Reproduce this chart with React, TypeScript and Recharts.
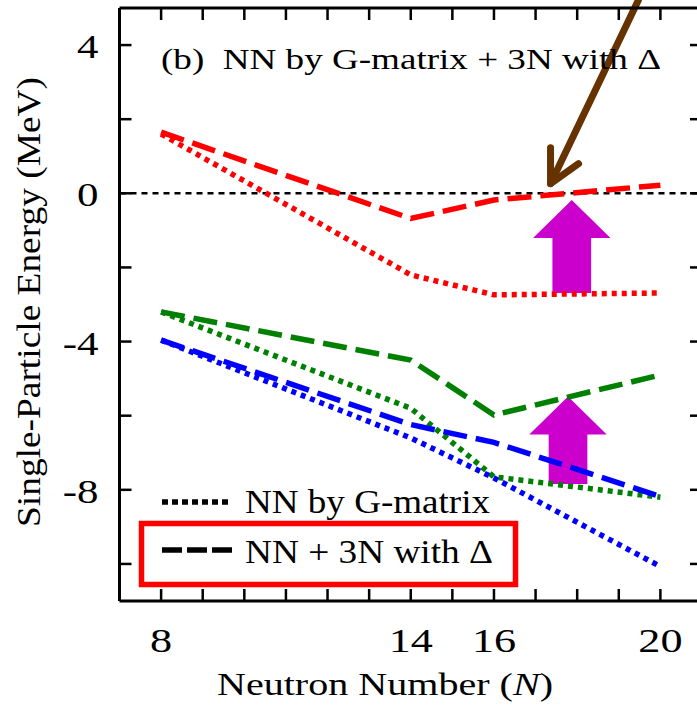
import React from "react";
import {
  LineChart,
  Line,
  XAxis,
  YAxis,
  ReferenceLine,
  ReferenceArea,
  Legend,
} from "recharts";

// single-particle energies (MeV) vs neutron number
const neutronNumbers = [8, 14, 16, 20];
const redG = [1.6, -2.2, -2.74, -2.69];
const red3N = [1.65, -0.68, -0.18, 0.22];
const greenG = [-3.2, -5.8, -7.65, -8.2];
const green3N = [-3.2, -4.5, -5.98, -4.9];
const blueG = [-3.96, -6.6, -7.68, -10.07];
const blue3N = [-3.96, -6.24, -6.72, -8.18];

const xTicks = [8, 9, 10, 11, 12, 13, 14, 15, 16, 17, 18, 19, 20];
const xLabeled = [8, 14, 16, 20];
const yTicks = [-10, -8, -6, -4, -2, 0, 2, 4];
const yLabeled = [-8, -4, 0, 4];

// annotation arrows: [N center, tail energy, tip energy]
const upArrows = [
  [17.87, -2.69, -0.18],
  [17.78, -7.84, -5.48],
];
const pointerTip = { x: 17.36, y: 0.26 };
const pointerTail = { x: 19.47, y: 5.21 };

const data = neutronNumbers.map((n, i) => ({
  n,
  redG: redG[i],
  red3N: red3N[i],
  greenG: greenG[i],
  green3N: green3N[i],
  blueG: blueG[i],
  blue3N: blue3N[i],
}));

const FONT = "Liberation Serif";
const TICK = 12;
const DOTTED = "5 5";
const DASHED = "24 9";

function BottomTick(props: any) {
  const { x, y, payload } = props;
  const v = payload.value;
  return (
    <g>
      <line x1={x} y1={y} x2={x} y2={y - TICK} stroke="#000" strokeWidth={2.5} />
      {xLabeled.includes(v) && (
        <text
          transform={`translate(${x},${y + 51}) scale(1.3,1)`}
          textAnchor="middle"
          style={{ fontFamily: FONT }}
          fontSize={34}
          fill="#000"
        >
          {v}
        </text>
      )}
    </g>
  );
}

function TopTick(props: any) {
  const { x, y } = props;
  return <line x1={x} y1={y} x2={x} y2={y + TICK} stroke="#000" strokeWidth={2.5} />;
}

function LeftTick(props: any) {
  const { x, y, payload } = props;
  const v = payload.value;
  return (
    <g>
      <line x1={x} y1={y} x2={x + TICK} y2={y} stroke="#000" strokeWidth={2.5} />
      {yLabeled.includes(v) && (
        <text
          transform={`translate(${x - 21},${y + 13}) scale(1.3,1)`}
          textAnchor="end"
          style={{ fontFamily: FONT }}
          fontSize={33}
          fill="#000"
        >
          {v}
        </text>
      )}
    </g>
  );
}

function RightTick(props: any) {
  const { x, y } = props;
  return <line x1={x} y1={y} x2={x - TICK} y2={y} stroke="#000" strokeWidth={2.5} />;
}

function UpArrow(props: any) {
  const { x, y, width, height } = props;
  const cx = x + width / 2;
  const head = 38;
  const pts = [
    [cx, y],
    [x + width, y + head],
    [cx + width / 4, y + head],
    [cx + width / 4, y + height],
    [cx - width / 4, y + height],
    [cx - width / 4, y + head],
    [x, y + head],
  ]
    .map((p) => p.join(","))
    .join(" ");
  return <polygon points={pts} fill="#cc00cc" />;
}

function Pointer(props: any) {
  const { x1, y1, x2, y2 } = props;
  return (
    <g stroke="#663300" strokeWidth={7} strokeLinecap="round" strokeLinejoin="round" fill="none">
      <line x1={x1} y1={y1} x2={x2} y2={y2} />
      <polyline points={`${x1},${y1 - 36} ${x1},${y1} ${x1 + 28},${y1 - 20}`} />
    </g>
  );
}

function LegendBox() {
  return (
    <svg width={400} height={120} style={{ display: "block", overflow: "visible" }}>
      <line x1={32} y1={22} x2={98} y2={22} stroke="#000" strokeWidth={5.5} strokeDasharray="6 4" />
      <text
        x={115}
        y={33}
        style={{ fontFamily: FONT }}
        fontSize={34}
        textLength={245}
        lengthAdjust="spacingAndGlyphs"
      >
        NN by G-matrix
      </text>
      <rect x={11.5} y={43.5} width={374} height={61} fill="none" stroke="#ff0000" strokeWidth={5.5} />
      <line x1={32} y1={70} x2={102} y2={70} stroke="#000" strokeWidth={5.5} strokeDasharray="20 5" />
      <text
        x={115}
        y={83}
        style={{ fontFamily: FONT }}
        fontSize={34}
        textLength={248}
        lengthAdjust="spacingAndGlyphs"
      >
        NN + 3N with Δ
      </text>
    </svg>
  );
}

export default function App() {
  const lineProps = {
    type: "linear" as const,
    dot: false,
    activeDot: false,
    isAnimationActive: false,
    strokeWidth: 5.5,
  };
  return (
    <div
      style={{
        position: "absolute",
        left: 0,
        top: 0,
        width: 697,
        height: 711,
        overflow: "hidden",
        background: "#fff",
        fontFamily: FONT,
      }}
    >
      <LineChart width={712} height={711} data={data} margin={{ top: 7, right: 9, bottom: 0, left: 0 }}>
        <XAxis
          dataKey="n"
          type="number"
          domain={[7, 21]}
          ticks={xTicks}
          tickSize={0}
          tickMargin={0}
          height={110}
          axisLine={{ stroke: "#000", strokeWidth: 3 }}
          tickLine={false}
          tick={<BottomTick />}
          interval={0}
          label={(p: any) => (
            <text
              x={385}
              y={695}
              textAnchor="middle"
              style={{ fontFamily: FONT }}
              fontSize={31}
              textLength={336}
              lengthAdjust="spacingAndGlyphs"
            >
              Neutron Number (<tspan fontStyle="italic">N</tspan>)
            </text>
          )}
        />
        <XAxis
          xAxisId="top"
          orientation="top"
          dataKey="n"
          type="number"
          domain={[7, 21]}
          ticks={xTicks}
          tickSize={0}
          tickMargin={0}
          height={1}
          axisLine={{ stroke: "#000", strokeWidth: 3 }}
          tickLine={false}
          tick={<TopTick />}
          interval={0}
          label={(p: any) => (
            <text
              x={161}
              y={69}
              style={{ fontFamily: FONT }}
              fontSize={30}
              textLength={500}
              lengthAdjust="spacingAndGlyphs"
            >
              {"(b)\u00a0\u00a0NN by G-matrix + 3N with Δ"}
            </text>
          )}
        />
        <YAxis
          type="number"
          domain={[-11, 5]}
          ticks={yTicks}
          tickSize={0}
          tickMargin={0}
          width={119.5}
          axisLine={{ stroke: "#000", strokeWidth: 3 }}
          tickLine={false}
          tick={<LeftTick />}
          interval={0}
          label={(p: any) => (
            <text
              x={40}
              y={302}
              transform="rotate(-90, 40, 302)"
              textAnchor="middle"
              style={{ fontFamily: FONT }}
              fontSize={33}
              textLength={450}
              lengthAdjust="spacingAndGlyphs"
            >
              Single-Particle Energy (MeV)
            </text>
          )}
        />
        <YAxis
          yAxisId="right"
          orientation="right"
          type="number"
          domain={[-11, 5]}
          ticks={yTicks}
          tickSize={0}
          tickMargin={0}
          width={1}
          axisLine={{ stroke: "#000", strokeWidth: 3 }}
          tickLine={false}
          tick={<RightTick />}
          interval={0}
        />
        <ReferenceLine y={0} stroke="#000" strokeWidth={2.5} strokeDasharray="6 5" />
        <Line dataKey="redG" stroke="#ff0000" strokeDasharray={DOTTED} {...lineProps} />
        <Line dataKey="red3N" stroke="#ff0000" strokeDasharray={DASHED} {...lineProps} />
        <Line dataKey="greenG" stroke="#008000" strokeDasharray={DOTTED} {...lineProps} />
        <Line dataKey="green3N" stroke="#008000" strokeDasharray={DASHED} {...lineProps} />
        {/* blue series sit on the mirrored top/right axes, which share the same domains */}
        <Line
          dataKey="blueG"
          xAxisId="top"
          yAxisId="right"
          stroke="#0000ff"
          strokeDasharray={DOTTED}
          {...lineProps}
        />
        <Line
          dataKey="blue3N"
          xAxisId="top"
          yAxisId="right"
          stroke="#0000ff"
          strokeDasharray={DASHED}
          {...lineProps}
        />
        {upArrows.map(([n, tail, tip], i) => (
          <ReferenceArea
            key={i}
            x1={n - 0.93}
            x2={n + 0.93}
            y1={tail}
            y2={tip}
            shape={<UpArrow />}
          />
        ))}
        <ReferenceLine
          segment={[pointerTip, pointerTail]}
          ifOverflow="visible"
          shape={<Pointer />}
        />
        <Legend
          layout="vertical"
          align="center"
          verticalAlign="middle"
          wrapperStyle={{ left: 130, top: 480, width: 400, height: 120 }}
          content={() => <LegendBox />}
        />
      </LineChart>
    </div>
  );
}
